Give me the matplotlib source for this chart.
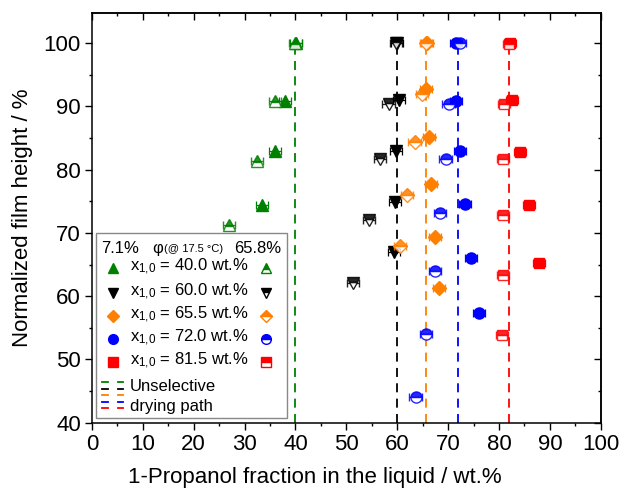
import matplotlib
matplotlib.use("Agg")
import matplotlib.pyplot as plt
from matplotlib.patches import Rectangle
from matplotlib.ticker import MultipleLocator

plt.rcParams['font.family'] = ['Liberation Sans', 'DejaVu Sans']
plt.rcParams['mathtext.fontset'] = 'custom'
plt.rcParams['mathtext.rm'] = 'Liberation Sans'
plt.rcParams['mathtext.it'] = 'Liberation Sans'

# ---------------- data ----------------
series_labels = ["40.0", "60.0", "65.5", "72.0", "81.5"]
series_colors = ["#008000", "#000000", "#FF7F00", "#0000FF", "#FF0000"]
series_markers = ["^", "v", "D", "o", "s"]

# filled markers (phi = 7.1 %)
green_f_x = [40.1, 38.0, 35.9, 33.4]
green_f_y = [100, 90.8, 82.9, 74.4]
black_f_x = [60.0, 60.3, 59.8, 59.6, 59.3]
black_f_y = [100, 91.0, 83.0, 74.9, 67.0]
orange_f_x = [65.9, 65.6, 66.2, 66.7, 67.4, 68.2]
orange_f_y = [100, 92.8, 85.1, 77.7, 69.3, 61.3]
blue_f_x = [71.5, 71.5, 72.4, 73.4, 74.5, 76.0]
blue_f_y = [100, 90.8, 82.9, 74.6, 66.1, 57.3]
red_f_x = [82.1, 82.6, 84.1, 85.9, 87.9]
red_f_y = [100, 91.0, 82.8, 74.4, 65.3]

# half-filled markers (phi = 65.8 %)
green_h_x = [40.0, 36.0, 32.4, 27.0]
green_h_y = [100, 90.8, 81.3, 71.3]
black_h_x = [59.8, 58.3, 56.6, 54.4, 51.3]
black_h_y = [100, 90.4, 81.7, 72.0, 62.0]
orange_h_x = [65.7, 64.9, 63.4, 61.9, 60.5]
orange_h_y = [100, 92.0, 84.4, 76.0, 67.9]
blue_h_x = [72.4, 70.1, 69.5, 68.4, 67.4, 65.7, 63.6]
blue_h_y = [100, 90.3, 81.7, 73.1, 63.9, 54.0, 44.0]
red_h_x = [81.9, 81.0, 80.8, 80.8, 80.8, 80.6]
red_h_y = [99.9, 90.4, 81.7, 72.8, 63.4, 53.9]

x_err = 1.2

# unselective drying path positions
unselective_x = [40.0, 60.0, 65.7, 72.0, 82.0]
unselective_y = [40, 100]

x_ticks = list(range(0, 101, 10))
y_ticks = list(range(40, 101, 10))

filled_x = [green_f_x, black_f_x, orange_f_x, blue_f_x, red_f_x]
filled_y = [green_f_y, black_f_y, orange_f_y, blue_f_y, red_f_y]
half_x = [green_h_x, black_h_x, orange_h_x, blue_h_x, red_h_x]
half_y = [green_h_y, black_h_y, orange_h_y, blue_h_y, red_h_y]

# ---------------- figure ----------------
W, H = 620, 494
fig = plt.figure(figsize=(W / 100, H / 100), dpi=100)
AX_L, AX_R, AX_T, AX_B = 92, 600.7, 13, 422.7
ax = fig.add_axes([AX_L / W, 1 - AX_B / H, (AX_R - AX_L) / W, (AX_B - AX_T) / H])

msz = {"^": 8.5, "v": 8.5, "D": 7, "o": 8, "s": 7.5}

for i in range(5):
    c = series_colors[i]
    ax.plot([unselective_x[i]] * 2, unselective_y, color=c, lw=1.3,
            linestyle=(0, (5, 3.5)), zorder=1)

for i in range(5):
    c = series_colors[i]
    m = series_markers[i]
    ax.errorbar(filled_x[i], filled_y[i], xerr=x_err, fmt=m, color=c, ms=msz[m],
                mec=c, mfc=c, ecolor=c, elinewidth=0.9, capsize=3, capthick=0.9,
                zorder=3)
for i in range(5):
    c = series_colors[i]
    m = series_markers[i]
    ax.errorbar(half_x[i], half_y[i], xerr=x_err, fmt=m, color=c, ms=msz[m],
                mec=c, mfc=c, fillstyle='top', markerfacecoloralt='white',
                mew=1.0, ecolor=c, elinewidth=0.9, capsize=3, capthick=0.9,
                alpha=0.85, zorder=4)

ax.set_xlim(0, 100)
ax.set_ylim(40, 104.75)
ax.set_xticks(x_ticks)
ax.set_yticks(y_ticks)
ax.xaxis.set_minor_locator(MultipleLocator(5))
ax.yaxis.set_minor_locator(MultipleLocator(5))
ax.tick_params(which='both', top=False, right=False, labelsize=16,
               width=1.0, direction='out')
ax.tick_params(which='major', length=5)
ax.tick_params(which='minor', length=2.5)
ax.tick_params(axis='x', pad=3)
ax.tick_params(axis='y', pad=3)
for s in ax.spines.values():
    s.set_linewidth(1.1)

# inward ticks on top and right
sx = ax.secondary_xaxis('top')
sx.set_xticks(x_ticks)
sx.xaxis.set_minor_locator(MultipleLocator(5))
sx.tick_params(which='both', direction='in', labeltop=False, width=1.0)
sx.tick_params(which='major', length=5)
sx.tick_params(which='minor', length=2.5)
sy = ax.secondary_yaxis('right')
sy.set_yticks(y_ticks)
sy.yaxis.set_minor_locator(MultipleLocator(5))
sy.tick_params(which='both', direction='in', labelright=False, width=1.0)
sy.tick_params(which='major', length=5)
sy.tick_params(which='minor', length=2.5)
for a in (sx, sy):
    for s in a.spines.values():
        s.set_linewidth(1.1)

ax.set_xlabel("1-Propanol fraction in the liquid / wt.%", fontsize=16)
ax.xaxis.set_label_coords((315 - AX_L) / (AX_R - AX_L), -(477 - AX_B) / (AX_B - AX_T))
ax.xaxis.label.set_va('center')
ax.set_ylabel("Normalized film height / %", fontsize=16, labelpad=8)


# ---------------- custom legend ----------------
def P(px, py):
    return ((px - AX_L) / (AX_R - AX_L), (AX_B - py) / (AX_B - AX_T))


x0, y0 = P(96, 417.7)
x1, y1 = P(287.3, 233.3)
ax.add_patch(Rectangle((x0, y0), x1 - x0, y1 - y0, transform=ax.transAxes,
                       facecolor='white', edgecolor='#888888', lw=1.0, zorder=10))

tkw = dict(transform=ax.transAxes, zorder=11, va='center')
ax.text(*P(101, 248), "7.1%", fontsize=12, ha='left', **tkw)
ax.text(*P(152, 249), "φ", fontsize=12, ha='left', **tkw)
ax.text(*P(164, 249), "(@ 17.5 °C)", fontsize=8, ha='left', **tkw)
ax.text(*P(281, 248), "65.8%", fontsize=12, ha='right', **tkw)

row_y = [268.3, 292.5, 315.5, 339, 362.3]
lmsz = {"^": 7.5, "v": 7.5, "D": 6.5, "o": 7, "s": 6.5}
for i in range(5):
    c = series_colors[i]
    m = series_markers[i]
    ax.plot(*P(113.3, row_y[i]), marker=m, ms=lmsz[m], color=c, mec=c,
            transform=ax.transAxes, zorder=11, clip_on=False)
    ax.plot(*P(265.7, row_y[i]), marker=m, ms=lmsz[m], color=c, mec=c,
            fillstyle='top', markerfacecoloralt='white', mew=1.0,
            transform=ax.transAxes, zorder=11, clip_on=False)
    ax.text(*P(130, row_y[i] - 1), r"x$_{1{,}0}$ = " + series_labels[i] + " wt.%",
            fontsize=12, ha='left', **tkw)

dash_y = [381.7, 388.5, 395, 401.7, 408.3]
for i in range(5):
    c = series_colors[i]
    for (xa, xb) in [(102, 107.5), (117.5, 123)]:
        pa = P(xa, dash_y[i])
        pb = P(xb, dash_y[i])
        ax.plot([pa[0], pb[0]], [pa[1], pb[1]], color=c, lw=1.3,
                transform=ax.transAxes, zorder=11, clip_on=False)
ax.text(*P(130, 386), "Unselective", fontsize=12, ha='left', **tkw)
ax.text(*P(130, 406), "drying path", fontsize=12, ha='left', **tkw)

fig.savefig("out.png", dpi=100)
